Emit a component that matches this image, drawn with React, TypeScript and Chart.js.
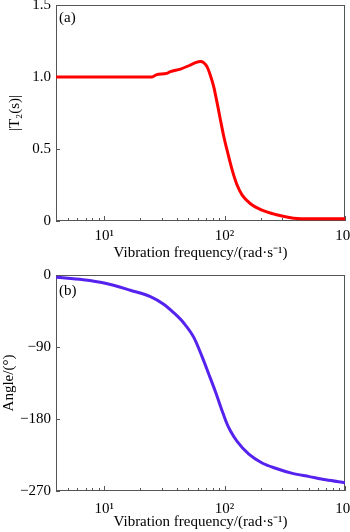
import React, { useEffect, useRef } from 'react';
import { Chart, registerables } from 'chart.js';
Chart.register(...registerables);

// ---- data ----
const freqA = [4, 10, 20, 25, 27, 33, 35.5, 43, 52, 57.4, 63, 67, 71.6, 76, 81.4, 86.7, 92.5, 98.6, 105, 116, 127, 140, 164, 205, 265, 344, 400, 600, 1000];
const magA = [1.0, 1.0, 1.0, 1.0, 1.015, 1.025, 1.037, 1.055, 1.083, 1.1, 1.108, 1.1, 1.07, 1.014, 0.93, 0.82, 0.7, 0.585, 0.49, 0.35, 0.25, 0.18, 0.12, 0.075, 0.045, 0.025, 0.018, 0.015, 0.015];

const freqB = [4, 6.7, 10, 16.5, 24.2, 31.2, 37.7, 45.8, 55.5, 65, 74, 84, 95.5, 104, 112, 127, 159, 205, 265, 366, 505, 693, 1000];
const angleB = [-2.9, -6, -10, -19, -27, -36.5, -47, -60, -78, -102, -124, -146, -170, -185, -195, -208, -224, -235, -241.6, -248, -252, -256, -259.6];

const xTickValues = [5, 6, 7, 8, 9, 10, 20, 30, 40, 50, 60, 70, 80, 90, 100, 200, 300, 400, 500, 600, 700, 800, 900, 1000];
const xMajor = [10, 100, 1000];
const xTickLabels = ['10¹', '10²', '10³'];

const yTicksA = [0, 0.5, 1.0, 1.5];
const yLabelsA = ['0', '0.5', '1.0', '1.5'];
const yTicksB = [-270, -180, -90, 0];
const yLabelsB = ['−270', '−180', '−90', '0'];

const xTitle = 'Vibration frequency/(rad·s⁻¹)';
const FONT = "'Liberation Serif', 'Times New Roman', serif";

interface PanelCfg {
  xs: number[];
  ys: number[];
  color: string;
  yMin: number;
  yMax: number;
  yTicks: number[];
  yLabels: string[];
  yTitle: string;
  yTitlePad: number;
  panelLabel: string;
  panelLabelDy: number;
  padTop: number;
  xHeight: number;
  xTickPad: number;
  xTitlePad: number;
}

function Panel({ cfg }: { cfg: PanelCfg }) {
  const ref = useRef<HTMLCanvasElement | null>(null);
  useEffect(() => {
    if (!ref.current) return;
    const font = { family: FONT, size: 15 };
    const framePlugin = {
      id: 'frame',
      beforeDatasetsDraw(chart: any) {
        const { ctx, chartArea: a, scales } = chart;
        ctx.save();
        ctx.strokeStyle = '#555';
        ctx.lineWidth = 1;
        ctx.strokeRect(a.left + 0.5, a.top + 0.5, a.right - a.left - 1, a.bottom - a.top - 1);
        ctx.beginPath();
        for (const v of xTickValues) {
          const px = Math.round(scales.x.getPixelForValue(v)) + 0.5;
          const len = xMajor.includes(v) ? 5 : 3;
          ctx.moveTo(px, a.bottom);
          ctx.lineTo(px, a.bottom - len);
        }
        for (const v of cfg.yTicks) {
          const py = Math.round(scales.y.getPixelForValue(v)) + 0.5;
          ctx.moveTo(a.left, py);
          ctx.lineTo(a.left + 4, py);
        }
        ctx.stroke();
        ctx.fillStyle = '#000';
        ctx.font = `15px ${FONT}`;
        ctx.textBaseline = 'middle';
        ctx.textAlign = 'left';
        ctx.fillText(cfg.panelLabel, a.left + 3, a.top + cfg.panelLabelDy);
        ctx.restore();
      },
    };
    const chart = new Chart(ref.current, {
      type: 'line',
      data: {
        datasets: [
          {
            data: cfg.xs.map((x, i) => ({ x, y: cfg.ys[i] })),
            borderColor: cfg.color,
            borderWidth: 3,
            pointRadius: 0,
            fill: false,
            cubicInterpolationMode: 'monotone',
          },
        ],
      },
      options: {
        animation: false,
        responsive: false,
        events: [],
        layout: { autoPadding: false, padding: { top: cfg.padTop, right: 5, left: 0, bottom: 0 } },
        plugins: { legend: { display: false }, tooltip: { enabled: false } },
        scales: {
          x: {
            type: 'logarithmic',
            min: Math.pow(10, 0.6),
            max: 1000,
            afterBuildTicks: (s: any) => {
              s.ticks = xTickValues.map((v) => ({ value: v }));
            },
            afterFit: (s: any) => {
              s.height = cfg.xHeight;
              s.paddingLeft = 0;
              s.paddingRight = 0;
            },
            grid: { display: false, drawTicks: false },
            border: { display: false },
            ticks: {
              autoSkip: false,
              maxRotation: 0,
              minRotation: 0,
              padding: cfg.xTickPad,
              color: '#000',
              font,
              callback: (v: any) => {
                const i = xMajor.indexOf(Number(v));
                return i >= 0 ? xTickLabels[i] : '';
              },
            },
            title: { display: true, text: xTitle, color: '#000', font, padding: { top: 0, bottom: cfg.xTitlePad } },
          },
          y: {
            type: 'linear',
            min: cfg.yMin,
            max: cfg.yMax,
            afterBuildTicks: (s: any) => {
              s.ticks = cfg.yTicks.map((v) => ({ value: v }));
            },
            afterFit: (s: any) => {
              s.width = 56;
              s.paddingTop = 0;
              s.paddingBottom = 0;
            },
            grid: { display: false, drawTicks: false },
            border: { display: false },
            ticks: {
              padding: 5,
              color: '#000',
              font,
              callback: (_v: any, i: number) => cfg.yLabels[i],
            },
            title: { display: true, text: cfg.yTitle, color: '#000', font, padding: { top: cfg.yTitlePad, bottom: 0 } },
          },
        },
      },
      plugins: [framePlugin],
    } as any);
    return () => chart.destroy();
  }, [cfg]);
  return <canvas ref={ref} width={350} height={266} style={{ display: 'block', width: 350, height: 266 }} />;
}

const panelA: PanelCfg = {
  xs: freqA,
  ys: magA,
  color: '#ff0000',
  yMin: 0,
  yMax: 1.5,
  yTicks: yTicksA,
  yLabels: yLabelsA,
  yTitle: '|T₂(s)|',
  yTitlePad: 6,
  panelLabel: '(a)',
  panelLabelDy: 13,
  padTop: 5,
  xHeight: 45,
  xTickPad: 6,
  xTitlePad: 4,
};

const panelB: PanelCfg = {
  xs: freqB,
  ys: angleB,
  color: '#5522ee',
  yMin: -270,
  yMax: 0,
  yTicks: yTicksB,
  yLabels: yLabelsB,
  yTitle: 'Angle/(°)',
  yTitlePad: 0,
  panelLabel: '(b)',
  panelLabelDy: 16,
  padTop: 9,
  xHeight: 41,
  xTickPad: 9,
  xTitlePad: 1,
};

export default function App() {
  return (
    <div style={{ position: 'fixed', left: 0, top: 0, width: 350, height: 532, background: '#fff' }}>
      <Panel cfg={panelA} />
      <Panel cfg={panelB} />
    </div>
  );
}
